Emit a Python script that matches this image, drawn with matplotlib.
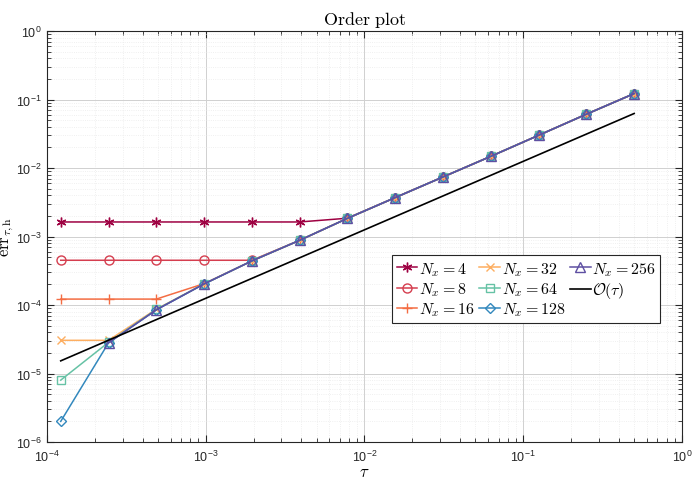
import matplotlib
matplotlib.use('Agg')
import matplotlib.pyplot as plt

plt.rcParams['mathtext.fontset'] = 'cm'
plt.rcParams['font.family'] = 'Liberation Sans'

# time steps tau = 0.5 / 2^k, k = 0..12
tau = [0.5, 0.25, 0.125, 0.0625, 0.03125, 0.015625, 0.0078125,
       0.00390625, 0.001953125, 0.0009765625, 0.00048828125,
       0.000244140625, 0.0001220703125]

err_N4 = [0.122, 0.061, 0.030, 0.0148, 0.0074, 0.0037, 0.00185,
          0.00163, 0.00163, 0.00163, 0.00163, 0.00163, 0.00163]
err_N8 = [0.122, 0.061, 0.030, 0.0148, 0.0074, 0.0037, 0.00184,
          0.00088, 0.00045, 0.00045, 0.00045, 0.00045, 0.00045]
err_N16 = [0.122, 0.061, 0.030, 0.0148, 0.0074, 0.0037, 0.00184,
           0.00088, 0.00044, 0.000205, 0.000122, 0.000122, 0.000122]
err_N32 = [0.122, 0.061, 0.030, 0.0148, 0.0074, 0.0037, 0.00184,
           0.00088, 0.00044, 0.000203, 8.7e-05, 3.05e-05, 3.05e-05]
err_N64 = [0.122, 0.061, 0.030, 0.0148, 0.0074, 0.0037, 0.00184,
           0.00088, 0.00044, 0.000203, 8.6e-05, 2.85e-05, 8.0e-06]
err_N128 = [0.122, 0.061, 0.030, 0.0148, 0.0074, 0.0037, 0.00184,
            0.00088, 0.00044, 0.000203, 8.5e-05, 2.8e-05, 2.0e-06]
err_N256 = [0.122, 0.061, 0.030, 0.0148, 0.0074, 0.0037, 0.00184,
            0.00088, 0.00044, 0.000203, 8.5e-05, 2.8e-05]

ref_tau = [tau[0], tau[-1]]
ref_err = [0.0625, 1.53e-05]

asterisk = (6, 2, 0)
series = [
    (r'$N_x = 4$', err_N4, '#9E0142', asterisk, 7),
    (r'$N_x = 8$', err_N8, '#D53E4F', 'o', 6.5),
    (r'$N_x = 16$', err_N16, '#F46D43', '+', 7.5),
    (r'$N_x = 32$', err_N32, '#FDAE61', 'x', 5.5),
    (r'$N_x = 64$', err_N64, '#66C2A5', 's', 6),
    (r'$N_x = 128$', err_N128, '#3288BD', 'D', 5.5),
    (r'$N_x = 256$', err_N256, '#5E4FA2', '^', 6.5),
]

fig = plt.figure(figsize=(6.98, 4.85), dpi=100)
ax = fig.add_axes([0.0673, 0.0866, 0.9097, 0.8474])

for label, err, col, mk, ms in series:
    ax.loglog(tau[:len(err)], err, color=col, marker=mk, markerfacecolor='none',
              markersize=ms, linewidth=1.1, markeredgewidth=1.0, label=label)

ax.loglog(ref_tau, ref_err, color='black', linewidth=1.2,
          label=r'$\mathcal{O}(\tau)$')

ax.set_xlim(1e-4, 1)
ax.set_ylim(1e-6, 1)
ax.grid(True, which='major', color='#d0d0d0', linewidth=0.7)
ax.grid(True, which='minor', color='#ebebeb', linestyle=':', linewidth=0.6)
ax.set_axisbelow(True)
ax.tick_params(which='both', direction='in', top=True, right=True,
               labelsize=9, colors='#262626')
ax.tick_params(axis='x', pad=5)
ax.tick_params(axis='y', pad=4)
ax.tick_params(which='major', length=5)
ax.tick_params(which='minor', length=3)
for s in ax.spines.values():
    s.set_color('#262626')

ax.set_title(r'$\mathrm{Order\ plot}$', fontsize=13, pad=5)
ax.set_xlabel(r'$\tau$', fontsize=12, labelpad=0)
ax.set_ylabel(r'$\mathrm{err}_{\tau,\mathrm{h}}$', fontsize=12, labelpad=0)

leg = ax.legend(ncol=3, loc='lower left', bbox_to_anchor=(0.543, 0.29),
                fontsize=11.5, handlelength=1.3, handletextpad=0.1,
                columnspacing=0.3, labelspacing=0.15, borderpad=0.3,
                borderaxespad=0, fancybox=False, framealpha=1)
leg.get_frame().set_edgecolor('#262626')
leg.get_frame().set_linewidth(0.8)

plt.savefig('out.png', dpi=100)
